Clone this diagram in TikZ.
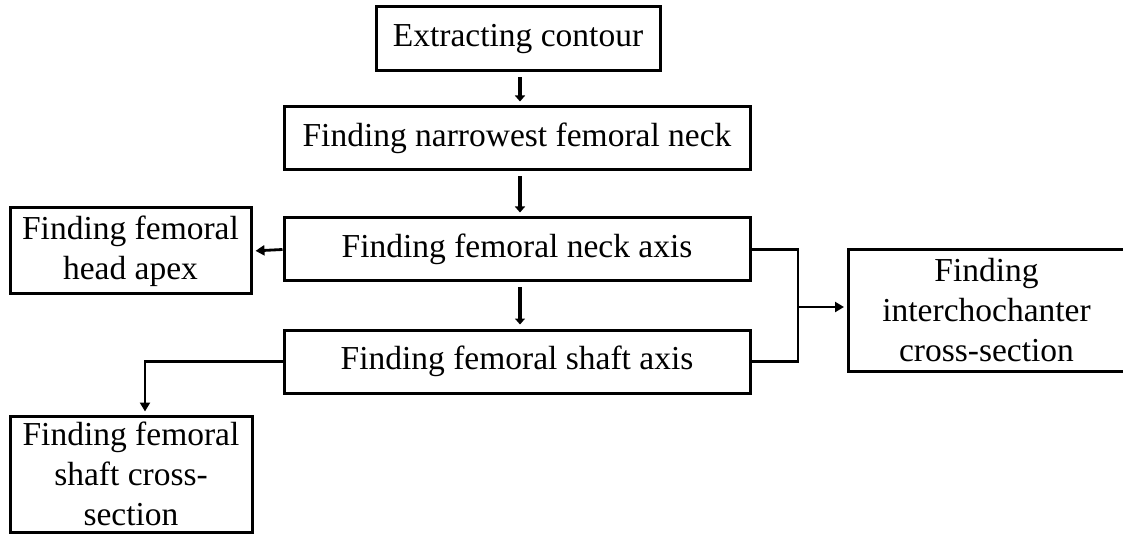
\documentclass[tikz,border=0pt]{standalone}
\usepackage{fontspec}
\setmainfont{Liberation Serif}
\usetikzlibrary{arrows.meta,calc}
\begin{document}
\begin{tikzpicture}[x=1pt,y=-1pt,
  box/.style={draw=black,line width=3pt,rectangle,inner sep=0pt,align=center,
    font=\fontsize{33.5}{40}\selectfont},
  varrow/.style={line width=3.5pt,-{Triangle[length=6pt,width=10pt]},shorten <=5pt,shorten >=4pt},
  harrow/.style={line width=2.8pt,-{Triangle[length=9pt,width=10pt]},shorten >=3pt},
  conn/.style={line width=2.8pt}]
\useasboundingbox (0,0) rectangle (1123,534);
\fill[white] (0,0) rectangle (1123,534);
\node[box,minimum width=284pt,minimum height=64pt] (b1) at (518,39) {Extracting contour};
\node[box,minimum width=466pt,minimum height=63pt] (b2) at (517,138.5) {Finding narrowest femoral neck};
\node[box,minimum width=466pt,minimum height=63pt] (b3) at (517,249.5) {Finding femoral neck axis};
\node[box,minimum width=466pt,minimum height=63pt] (b4) at (517,361.5) {Finding femoral shaft axis};
\node[box,minimum width=241pt,minimum height=86pt] (bh) at (130.5,251) {Finding femoral\\head apex};
\node[box,minimum width=242pt,minimum height=116pt] (bs) at (131,474) {Finding femoral\\shaft cross-\\section};
\node[box,minimum width=290pt,minimum height=121pt,anchor=west] (bi) at (847,310.5) {\hspace*{-14pt}Finding\\\hspace*{-14pt}interchochanter\\\hspace*{-14pt}cross-section};
\coordinate (ax) at (520,0);
\coordinate (sx) at (145,0);
\coordinate (jn) at (798,307);
\draw[varrow] (b1.south -| ax) -- (b2.north -| ax);
\draw[varrow] (b2.south -| ax) -- (b3.north -| ax);
\draw[varrow] (b3.south -| ax) -- (b4.north -| ax);
\draw[harrow] (b3.west) -- (bh.east);
\draw[harrow] (b4.west) -| (sx |- bs.north);
\draw[conn] (b3.east) -| (jn) |- (b4.east);
\draw[harrow] (jn) -- (jn -| bi.west);
\end{tikzpicture}
\end{document}
